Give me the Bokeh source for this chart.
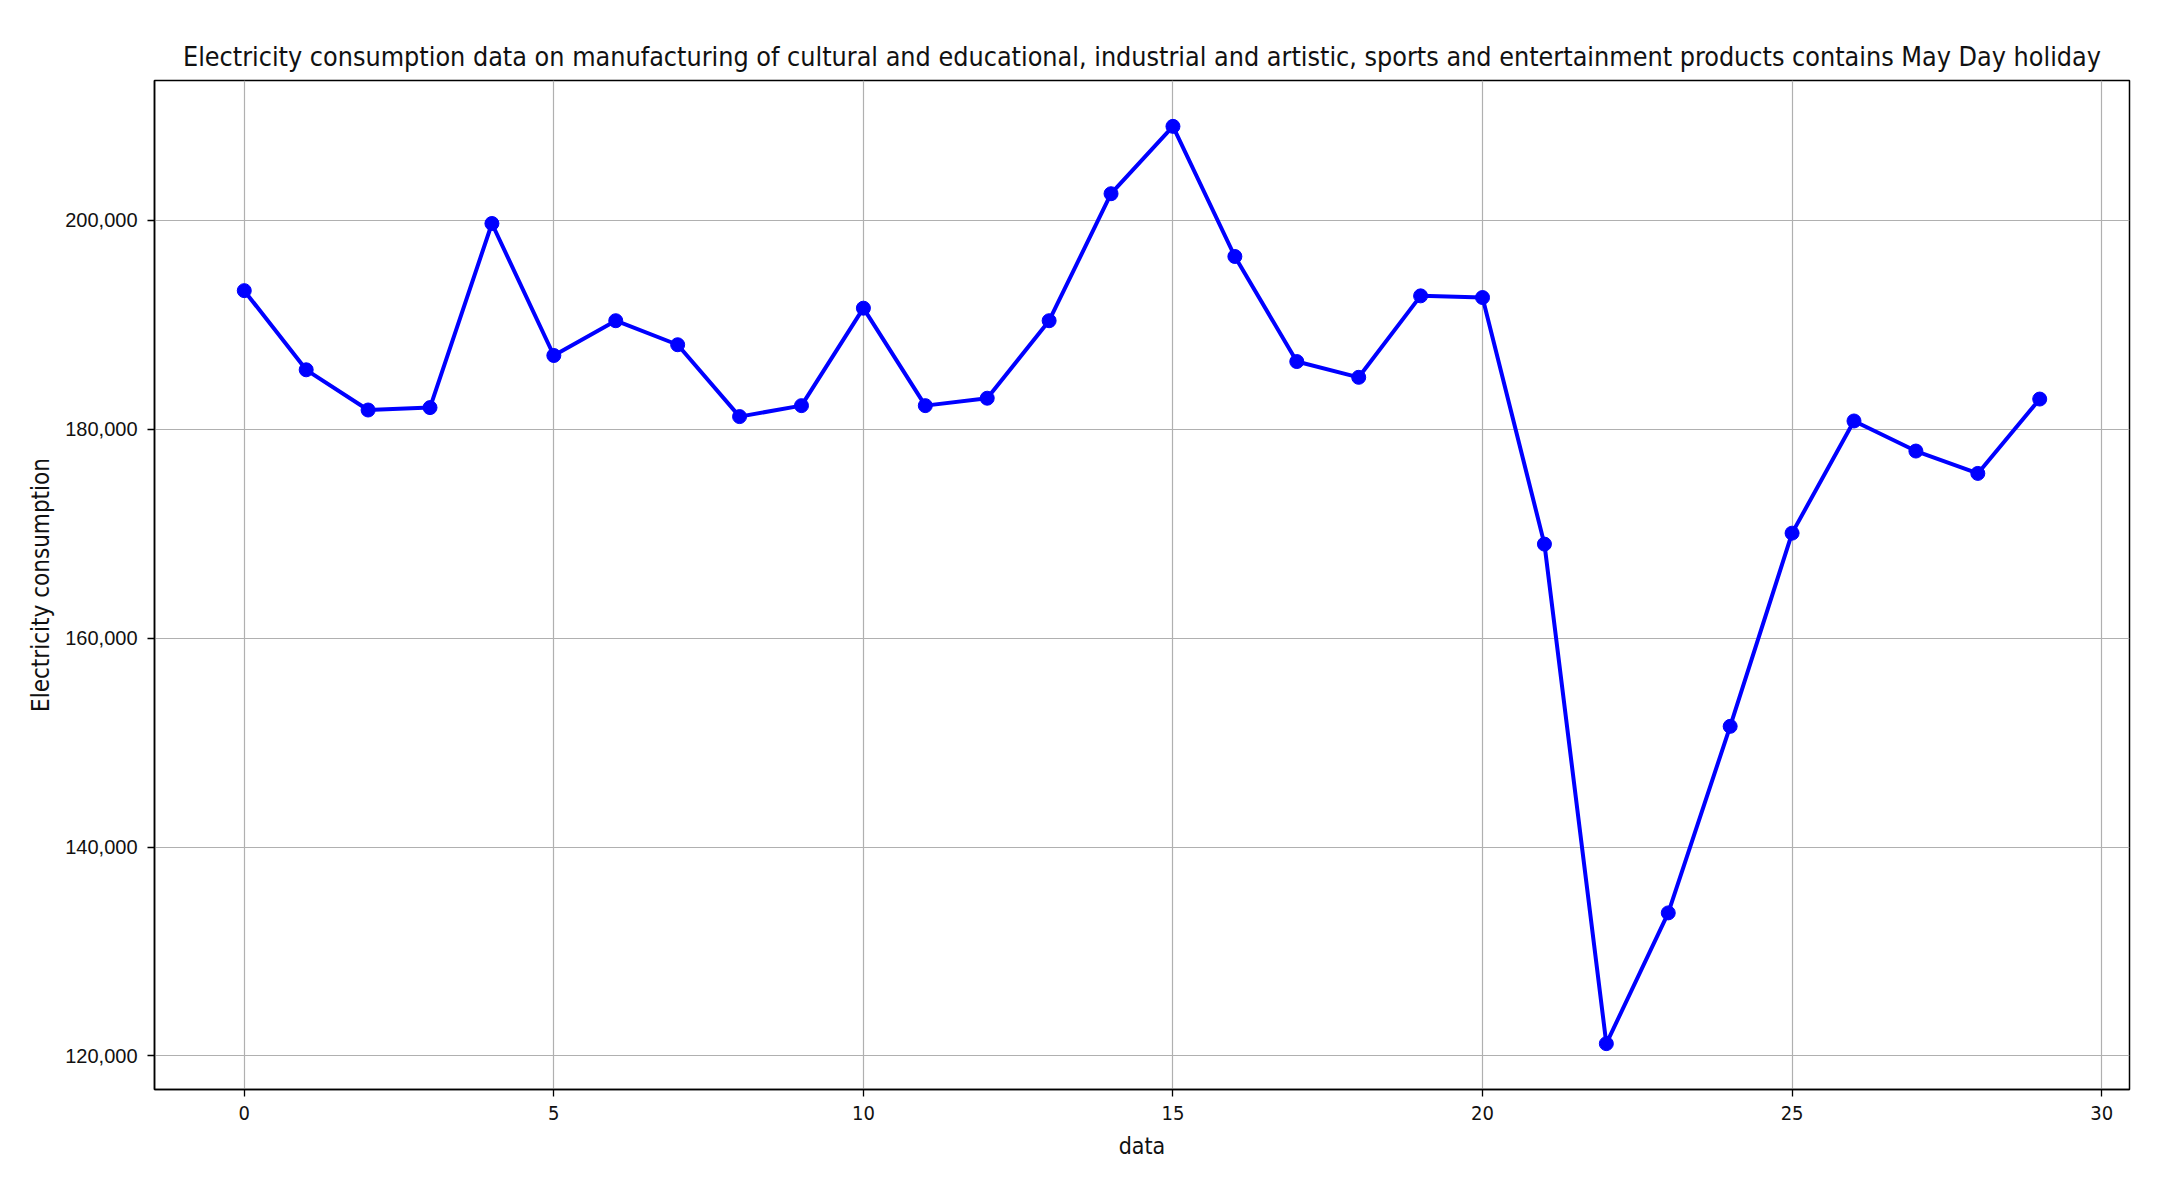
from bokeh.plotting import figure
from bokeh.models import Range1d, FixedTicker, NumeralTickFormatter
from bokeh.embed import file_html
from bokeh.resources import INLINE

# data
days = list(range(30))
consumption = [193280, 185700, 181850, 182080, 199710, 187070, 190400, 188100,
               181220, 182270, 191600, 182270, 182980, 190400, 202560, 209010,
               196550, 186490, 184980, 192780, 192620, 169010, 121180, 133700,
               151560, 170060, 180800, 177920, 175780, 182900]
x_ticks = [0, 5, 10, 15, 20, 25, 30]
y_ticks = [120000, 140000, 160000, 180000, 200000]
title_text = ("Electricity consumption data on manufacturing of cultural and educational, "
              "industrial and artistic, sports and entertainment products contains May Day holiday")
x_label = "data"
y_label = "Electricity consumption"

COND = "'DejaVu Sans Condensed', 'DejaVu Sans', sans-serif"

xmin, xmax = min(days), max(days)
ymin, ymax = min(consumption), max(consumption)
xm = (xmax - xmin) * 0.05
ym = (ymax - ymin) * 0.05

p = figure(width=2162, height=1188, output_backend="svg", toolbar_location=None,
           x_range=Range1d(xmin - xm, xmax + xm), y_range=Range1d(ymin - ym, ymax + ym),
           min_border_left=154, min_border_right=33, min_border_top=80, min_border_bottom=99,
           title=title_text)

p.title.text_font = COND
p.title.text_font_size = "26.7px"
p.title.text_font_style = "normal"
p.title.align = "center"
p.title.text_color = "#111111"
p.title.standoff = 17

p.outline_line_color = "black"
p.outline_line_width = 1.5
p.outline_line_alpha = 1.0

for ax in (p.xaxis[0], p.yaxis[0]):
    ax.axis_line_color = "black"
    ax.axis_line_width = 1.5
    ax.major_tick_line_color = "black"
    ax.major_tick_line_width = 1.3
    ax.major_tick_out = 7
    ax.major_tick_in = 0
    ax.minor_tick_line_color = None
    ax.axis_label_text_font_style = "normal"
    ax.axis_label_text_color = "#111111"
    ax.major_label_text_color = "#111111"

p.xaxis.ticker = FixedTicker(ticks=x_ticks)
p.xaxis.major_label_text_font = COND
p.xaxis.major_label_text_font_size = "20px"
p.xaxis.major_label_standoff = 9
p.xaxis.axis_label = x_label
p.xaxis.axis_label_text_font = COND
p.xaxis.axis_label_text_font_size = "23px"
p.xaxis.axis_label_standoff = 10

p.yaxis.ticker = FixedTicker(ticks=y_ticks)
p.yaxis.formatter = NumeralTickFormatter(format="0,0")
p.yaxis.major_label_text_font = "Liberation Sans"
p.yaxis.major_label_text_font_size = "20px"
p.yaxis.major_label_standoff = 10
p.yaxis.axis_label = y_label
p.yaxis.axis_label_text_font = COND
p.yaxis.axis_label_text_font_size = "24px"
p.yaxis.axis_label_standoff = 7

p.grid.grid_line_color = "#b0b0b0"
p.grid.grid_line_width = 1.2

p.line(days, consumption, line_color="#0000ff", line_width=4)
p.scatter(days, consumption, size=14, fill_color="#0000ff", line_color="#0000ff")

open("out.html", "w").write(file_html(p, INLINE))
